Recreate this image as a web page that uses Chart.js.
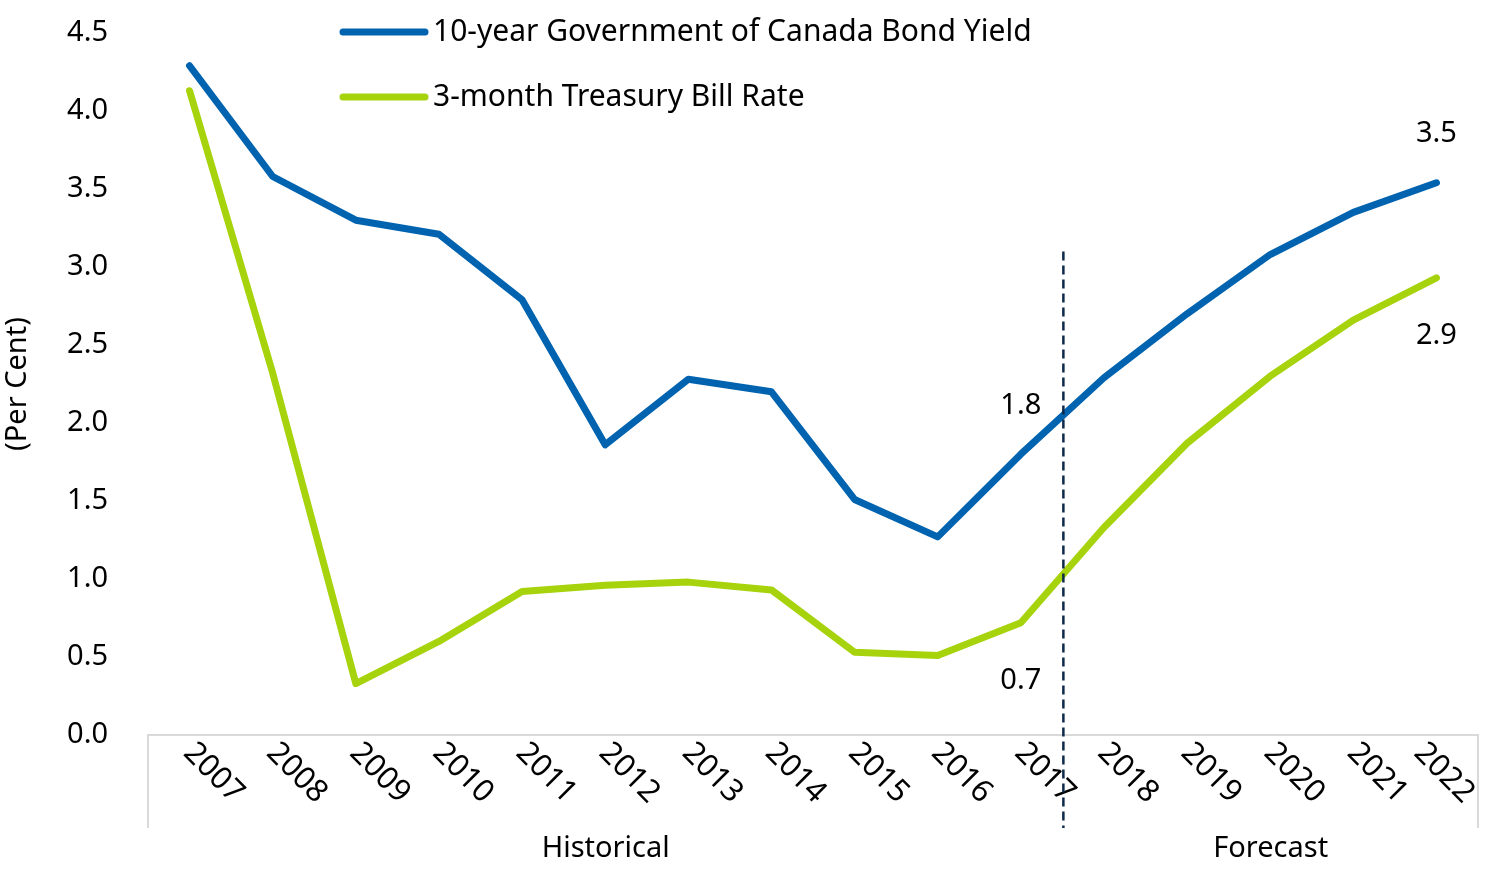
<!DOCTYPE html>
<html>
<head>
<meta charset="utf-8">
<script src="https://cdn.jsdelivr.net/npm/chart.js@4/dist/chart.umd.min.js"></script>
<style>
    html, body { margin: 0; padding: 0; background: #fff; }
    #wrap { width: 1500px; height: 869px; position: relative; }
</style>
</head>
<body>
<div id="wrap"><canvas id="rateChart"></canvas></div>
<script>
        // Data
        const years = ['2007', '2008', '2009', '2010', '2011', '2012', '2013', '2014',
                       '2015', '2016', '2017', '2018', '2019', '2020', '2021', '2022'];
        const bondYield = [4.29, 3.58, 3.30, 3.21, 2.79, 1.86, 2.28, 2.20,
                           1.51, 1.27, 1.80, 2.29, 2.70, 3.08, 3.35, 3.54];
        const tBillRate = [4.13, 2.32, 0.33, 0.60, 0.92, 0.96, 0.98, 0.93,
                           0.53, 0.51, 0.72, 1.33, 1.87, 2.30, 2.66, 2.93];
        const seriesNames = ['10-year Government of Canada Bond Yield', '3-month Treasury Bill Rate'];
        const yTicks = [0, 0.5, 1.0, 1.5, 2.0, 2.5, 3.0, 3.5, 4.0, 4.5];
        const groups = ['Historical', 'Forecast'];
        const lastHistorical = 10; // index of 2017
        const dividerTop = 3.1;

        const FONT = '"Noto Sans", "Open Sans", sans-serif';
        const FONT_SIZE = 29;
        const BLUE = '#0063b0';
        const GREEN = '#a6d30c';

        // Draws x labels, group lines, divider, data labels and legend
        const decorPlugin = {
            id: 'decor',
            afterDraw(chart) {
                const ctx = chart.ctx;
                const xs = chart.scales.x;
                const ys = chart.scales.y;
                const area = chart.chartArea;
                const groupBottom = 828;

                ctx.save();
                ctx.fillStyle = '#000';

                // rotated year labels (kept inside the canvas on the right)
                ctx.font = '31px ' + FONT;
                years.forEach(function(label, i) {
                    const x = Math.min(xs.getPixelForValue(i) + 24, chart.width - 56);
                    ctx.save();
                    ctx.translate(x, area.bottom + 38);
                    ctx.rotate(Math.PI / 4);
                    ctx.textAlign = 'center';
                    ctx.textBaseline = 'middle';
                    ctx.fillText(label, 0, 0);
                    ctx.restore();
                });
                ctx.font = FONT_SIZE + 'px ' + FONT;

                // group boundary lines
                ctx.strokeStyle = '#d9d9d9';
                ctx.lineWidth = 2;
                [area.left, area.right].forEach(function(x) {
                    ctx.beginPath();
                    ctx.moveTo(x, area.bottom);
                    ctx.lineTo(x, groupBottom);
                    ctx.stroke();
                });

                // dashed divider between historical and forecast
                const divX = (xs.getPixelForValue(lastHistorical) + xs.getPixelForValue(lastHistorical + 1)) / 2 + 1;
                ctx.strokeStyle = '#0d2a4a';
                ctx.lineWidth = 2.5;
                ctx.setLineDash([9, 5]);
                ctx.beginPath();
                ctx.moveTo(divX, ys.getPixelForValue(dividerTop));
                ctx.lineTo(divX, groupBottom);
                ctx.stroke();
                ctx.setLineDash([]);

                // group labels
                ctx.textAlign = 'center';
                ctx.textBaseline = 'middle';
                ctx.fillText(groups[0], (area.left + divX) / 2, 849);
                ctx.fillText(groups[1], (divX + area.right) / 2, 849);

                // data labels
                const last = years.length - 1;
                const lbl = function(v, i, dy) {
                    ctx.fillText(v.toFixed(1), xs.getPixelForValue(i), ys.getPixelForValue(v) + dy);
                };
                lbl(bondYield[lastHistorical], lastHistorical, -48);
                lbl(tBillRate[lastHistorical], lastHistorical, 58);
                lbl(bondYield[last], last, -49);
                lbl(tBillRate[last], last, 58);

                // legend
                ctx.font = '30px ' + FONT;
                ctx.lineCap = 'round';
                ctx.lineWidth = 7;
                ctx.textAlign = 'left';
                chart.data.datasets.forEach(function(ds, i) {
                    const y = 32 + i * 65;
                    ctx.strokeStyle = ds.borderColor;
                    ctx.beginPath();
                    ctx.moveTo(343, y);
                    ctx.lineTo(425, y);
                    ctx.stroke();
                    ctx.fillText(ds.label, 433, y);
                });
                ctx.restore();
            }
        };

        const rateCtx = document.getElementById('rateChart').getContext('2d');
        const rateChart = new Chart(rateCtx, {
            type: 'line',
            data: {
                labels: years,
                datasets: [{
                    label: seriesNames[0],
                    data: bondYield,
                    borderColor: BLUE,
                    backgroundColor: BLUE,
                    borderWidth: 7,
                    borderCapStyle: 'round',
                    borderJoinStyle: 'round',
                    pointRadius: 0,
                    tension: 0
                }, {
                    label: seriesNames[1],
                    data: tBillRate,
                    borderColor: GREEN,
                    backgroundColor: GREEN,
                    borderWidth: 7,
                    borderCapStyle: 'round',
                    borderJoinStyle: 'round',
                    pointRadius: 0,
                    tension: 0
                }]
            },
            options: {
                responsive: true,
                maintainAspectRatio: false,
                animation: false,
                layout: {
                    padding: { top: 33, right: 22, bottom: 134, left: 0 }
                },
                plugins: {
                    legend: { display: false },
                    tooltip: { enabled: false }
                },
                scales: {
                    x: {
                        offset: true,
                        grid: { display: false },
                        border: { display: true, color: '#d9d9d9', width: 2 },
                        ticks: { display: false },
                        afterFit: function(scale) { scale.height = 0; }
                    },
                    y: {
                        min: 0,
                        max: 4.5,
                        afterBuildTicks: function(scale) {
                            scale.ticks = yTicks.map(function(v) { return { value: v }; });
                        },
                        grid: { display: false, drawTicks: false },
                        border: { display: false },
                        ticks: {
                            padding: 40,
                            color: '#000',
                            font: { family: FONT, size: FONT_SIZE },
                            callback: function(value) { return Number(value).toFixed(1); }
                        },
                        title: {
                            display: true,
                            text: '(Per Cent)',
                            color: '#000',
                            font: { family: FONT, size: FONT_SIZE },
                            padding: { top: 0, bottom: 0 }
                        },
                        afterFit: function(scale) {
                            scale.width = 148;
                            scale.paddingTop = 0;
                            scale.paddingBottom = 0;
                        }
                    }
                }
            },
            plugins: [decorPlugin]
        });
</script>
</body>
</html>
